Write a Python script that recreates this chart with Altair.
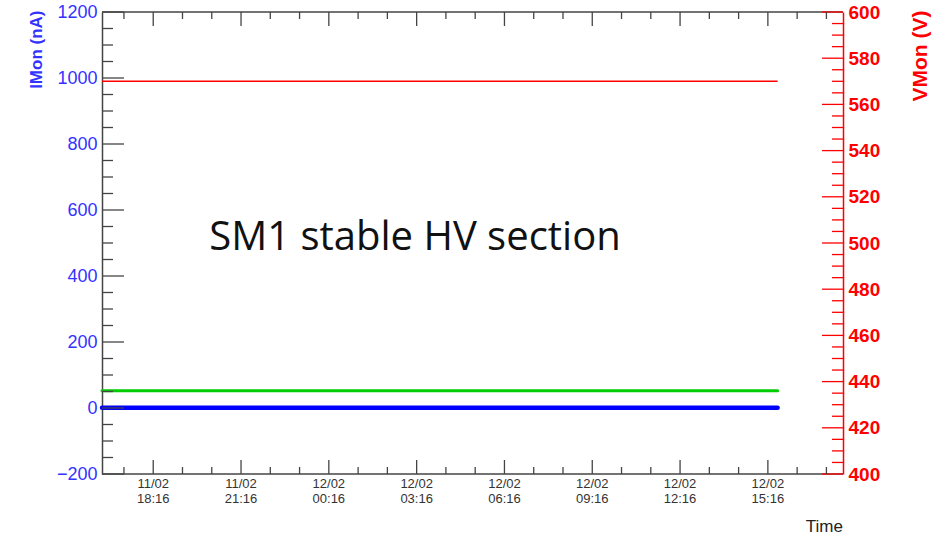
import altair as alt
import pandas as pd

# ---------------- data ----------------
time_points = ["2021-02-11T16:31:00Z", "2021-02-12T15:36:00Z"]
imon_blue = [1, 1]          # nA
imon_green = [52, 52]       # nA
vmon_red = [570, 570]       # V

x_domain = ["2021-02-11T16:31:00Z", "2021-02-12T17:50:00Z"]
x_major = ["2021-02-11T18:16:00Z", "2021-02-11T21:16:00Z", "2021-02-12T00:16:00Z",
           "2021-02-12T03:16:00Z", "2021-02-12T06:16:00Z", "2021-02-12T09:16:00Z",
           "2021-02-12T12:16:00Z", "2021-02-12T15:16:00Z"]
x_minor = ["2021-02-11T17:16:00Z", "2021-02-11T19:16:00Z", "2021-02-11T20:16:00Z",
           "2021-02-11T22:16:00Z", "2021-02-11T23:16:00Z", "2021-02-12T01:16:00Z",
           "2021-02-12T02:16:00Z", "2021-02-12T04:16:00Z", "2021-02-12T05:16:00Z",
           "2021-02-12T07:16:00Z", "2021-02-12T08:16:00Z", "2021-02-12T10:16:00Z",
           "2021-02-12T11:16:00Z", "2021-02-12T13:16:00Z", "2021-02-12T14:16:00Z",
           "2021-02-12T16:16:00Z", "2021-02-12T17:16:00Z"]
x_title = "Time"

imon_domain = [-200, 1200]
imon_major = [-200, 0, 200, 400, 600, 800, 1000, 1200]
imon_minor = [v for v in range(-200, 1201, 50) if v not in imon_major]

vmon_domain = [400, 600]
vmon_major = [400, 420, 440, 460, 480, 500, 520, 540, 560, 580, 600]
vmon_minor = [v for v in range(400, 601, 5) if v not in vmon_major]

annotation = "SM1 stable HV section"


def ms(s):
    return int(pd.Timestamp(s).value // 10**6)


W, H = 741, 462
FRAME = "#444444"
BLUE = "#0000ff"
RED = "#ff0000"
GREEN = "#00cc00"
LABEL_GREY = "#333333"

df_blue = pd.DataFrame({"t": [ms(s) for s in time_points], "v": imon_blue})
df_green = pd.DataFrame({"t": [ms(s) for s in time_points], "v": imon_green})
df_red = pd.DataFrame({"t": [ms(s) for s in time_points], "v": vmon_red})
df_xmaj = pd.DataFrame({"t": [ms(s) for s in x_major]})
df_xmin = pd.DataFrame({"t": [ms(s) for s in x_minor]})
df_imaj = pd.DataFrame({"v": imon_major})
df_imin = pd.DataFrame({"v": imon_minor})
df_vmaj = pd.DataFrame({"v": vmon_major})
df_vmin = pd.DataFrame({"v": vmon_minor})
df_label = pd.DataFrame({"label": [annotation]})
df_xtitle = pd.DataFrame({"label": [x_title]})

xscale = alt.Scale(type="utc", domain=[ms(s) for s in x_domain], nice=False)
iscale = alt.Scale(domain=imon_domain, nice=False, zero=False)
vscale = alt.Scale(domain=vmon_domain, nice=False, zero=False)

iaxis = alt.Axis(
    orient="left", values=imon_major, format="d", ticks=False, grid=False,
    domainColor=FRAME, domainWidth=1.5,
    labelColor="#3333ff", labelFontSize=18, labelPadding=5, labelFlush=False,
    title="IMon (nA)", titleColor="#3333ff", titleFontSize=17, titleFontWeight="bold",
    titleAngle=270, titleAlign="right", titleBaseline="middle", titleX=-66, titleY=-2,
)

vaxis = alt.Axis(
    orient="right", values=vmon_major, format="d", ticks=False, grid=False,
    domainColor=RED, domainWidth=1.5,
    labelColor=RED, labelFontSize=19, labelFontWeight="bold", labelPadding=5, labelFlush=False,
    title="VMon (V)", titleColor=RED, titleFontSize=21, titleFontWeight="bold",
    titleAngle=270, titleAlign="right", titleBaseline="middle", titleX=77, titleY=-2,
)

X = lambda: alt.X("t:T", scale=xscale, axis=None)

blue_line = alt.Chart(df_blue).mark_line(color=BLUE, strokeWidth=4.5, strokeCap="round").encode(
    x=X(), y=alt.Y("v:Q", scale=iscale, axis=iaxis))
green_line = alt.Chart(df_green).mark_line(color=GREEN, strokeWidth=3, strokeCap="round").encode(
    x=X(), y=alt.Y("v:Q", scale=iscale, axis=None))
red_line = alt.Chart(df_red).mark_line(color=RED, strokeWidth=1.5).encode(
    x=X(), y=alt.Y("v:Q", scale=vscale, axis=vaxis))

# frame (top and bottom borders)
top_border = alt.Chart(df_label).mark_rule(color=FRAME, strokeWidth=1.5).encode(
    x=alt.value(0), x2=alt.value(W), y=alt.value(0))
bottom_border = alt.Chart(df_label).mark_rule(color=FRAME, strokeWidth=1.5).encode(
    x=alt.value(0), x2=alt.value(W), y=alt.value(H))

# inward ticks
imaj_ticks = alt.Chart(df_imaj).mark_rule(color=FRAME, strokeWidth=1.3).encode(
    y=alt.Y("v:Q", scale=iscale, axis=None), x=alt.value(0), x2=alt.value(22))
imin_ticks = alt.Chart(df_imin).mark_rule(color=FRAME, strokeWidth=1.3).encode(
    y=alt.Y("v:Q", scale=iscale, axis=None), x=alt.value(0), x2=alt.value(11))
vmaj_ticks = alt.Chart(df_vmaj).mark_rule(color=RED, strokeWidth=1.3).encode(
    y=alt.Y("v:Q", scale=vscale, axis=None), x=alt.value(W), x2=alt.value(W - 21))
vmin_ticks = alt.Chart(df_vmin).mark_rule(color=RED, strokeWidth=1.3).encode(
    y=alt.Y("v:Q", scale=vscale, axis=None), x=alt.value(W), x2=alt.value(W - 11))
xmaj_bot = alt.Chart(df_xmaj).mark_rule(color=FRAME, strokeWidth=1.3).encode(
    x=X(), y=alt.value(H), y2=alt.value(H - 14))
xmin_bot = alt.Chart(df_xmin).mark_rule(color=FRAME, strokeWidth=1.3).encode(
    x=X(), y=alt.value(H), y2=alt.value(H - 7))
xmaj_top = alt.Chart(df_xmaj).mark_rule(color=FRAME, strokeWidth=1.3).encode(
    x=X(), y=alt.value(0), y2=alt.value(14))
xmin_top = alt.Chart(df_xmin).mark_rule(color=FRAME, strokeWidth=1.3).encode(
    x=X(), y=alt.value(0), y2=alt.value(7))

# x tick labels (two lines) and x title
xlab_date = alt.Chart(df_xmaj).transform_calculate(
    lab="utcFormat(datum.t, '%d/%m')"
).mark_text(font="Liberation Sans", fontSize=13, color=LABEL_GREY, align="center",
            baseline="top").encode(x=X(), y=alt.value(H + 4), text="lab:N")
xlab_time = alt.Chart(df_xmaj).transform_calculate(
    lab="utcFormat(datum.t, '%H:%M')"
).mark_text(font="Liberation Sans", fontSize=13, color=LABEL_GREY, align="center",
            baseline="top").encode(x=X(), y=alt.value(H + 19), text="lab:N")
xtitle = alt.Chart(df_xtitle).mark_text(
    font="Liberation Sans", fontSize=17, color="#222222", align="right", baseline="alphabetic"
).encode(x=alt.value(W), y=alt.value(H + 58), text="label:N")

label = alt.Chart(df_label).mark_text(
    font="Open Sans", fontSize=40, align="center", baseline="alphabetic", color="#111111"
).encode(x=alt.value(313), y=alt.value(238), text="label:N")

chart = alt.layer(
    blue_line, red_line, green_line,
    top_border, bottom_border,
    imaj_ticks, imin_ticks, vmaj_ticks, vmin_ticks,
    xmaj_bot, xmin_bot, xmaj_top, xmin_top,
    xlab_date, xlab_time, xtitle, label,
).resolve_scale(y="independent").properties(
    width=W, height=H,
    autosize=alt.AutoSizeParams(type="none"),
    padding={"left": 102, "top": 12, "right": 107, "bottom": 62},
).configure_view(stroke=None).configure_axis(
    labelFont="Liberation Sans", titleFont="Liberation Sans"
)

chart.save("out.html", embed_options={"renderer": "svg", "actions": False})
